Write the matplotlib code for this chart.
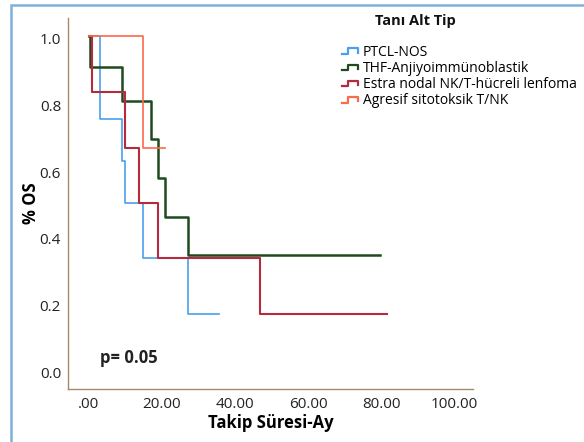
import numpy as np
import matplotlib
matplotlib.use("Agg")
import matplotlib.pyplot as plt
import matplotlib.transforms as mtransforms
from matplotlib.lines import Line2D
from matplotlib.patches import Rectangle
from matplotlib.legend_handler import HandlerBase

plt.rcParams['font.family'] = ['Open Sans', 'DejaVu Sans']

# Kaplan-Meier curves (time in months, survival)
labels = ["PTCL-NOS", "THF-Anjiyoimmünoblastik",
          "Estra nodal NK/T-hücreli lenfoma", "Agresif sitotoksik T/NK"]

ptcl_t = [0, 3.0, 9.0, 9.9, 14.9, 27.0, 35.7]
ptcl_s = [1.0, 0.75, 0.625, 0.50, 0.333, 0.165, 0.165]

thf_t = [0, 0.2, 9.0, 16.9, 19.0, 20.9, 27.0, 79.7]
thf_s = [1.0, 0.908, 0.806, 0.691, 0.574, 0.456, 0.341, 0.341]

nk_t = [0, 0.9, 9.9, 13.8, 18.8, 46.8, 81.6]
nk_s = [1.0, 0.833, 0.665, 0.50, 0.333, 0.165, 0.165]

agr_t = [0, 14.9, 20.8]
agr_s = [1.0, 0.665, 0.665]

x_ticks = [0, 20, 40, 60, 80, 100]
x_ticklabels = [".00", "20.00", "40.00", "60.00", "80.00", "100.00"]
y_ticks = [0.0, 0.2, 0.4, 0.6, 0.8, 1.0]

colors = ["#4a9fee", "#1f4a1f", "#b52a3c", "#fb6a4a"]
widths = [1.2, 1.8, 1.5, 1.2]


# legend handle drawn as a small step, like the SPSS icon
class StepHandler(HandlerBase):
    def create_artists(self, legend, orig_handle, xdescent, ydescent,
                       width, height, fontsize, trans):
        lo = 0.15 * height - ydescent
        hi = 0.75 * height - ydescent
        xs = np.array([0, 0.4, 0.4, 1.0, 1.0]) * width - xdescent
        ys = [lo, lo, hi, hi, lo + 0.15 * height]
        line = Line2D(xs, ys, color=orig_handle.get_color(),
                      linewidth=1.6, transform=trans)
        return [line]


fig = plt.figure(figsize=(5.84, 4.42), dpi=100)
ax = fig.add_axes([68 / 584, 1 - 389 / 442, 405 / 584, 371 / 442])

series = [(ptcl_t, ptcl_s), (thf_t, thf_s), (nk_t, nk_s), (agr_t, agr_s)]
handles = []
for (t, s), lab, c, lw in zip(series, labels, colors, widths):
    h, = ax.step(t, s, where="post", color=c, linewidth=lw, label=lab)
    handles.append(h)

ax.set_xlim(-5.75, 105.2)
ax.set_ylim(-0.06, 1.054)
ax.set_xticks(x_ticks)
ax.set_xticklabels(x_ticklabels)
ax.set_yticks(y_ticks)
ax.set_yticklabels([f"{v:.1f}" for v in y_ticks])
ax.tick_params(length=0, labelsize=11, colors="#222222")
ax.tick_params(axis="x", pad=6)
ax.tick_params(axis="y", pad=5)

# y labels sit a little below their ticks in the original
shift = mtransforms.ScaledTranslation(0, -3 / 100, fig.dpi_scale_trans)
for lbl in ax.get_yticklabels():
    lbl.set_transform(lbl.get_transform() + shift)

for side in ["top", "right"]:
    ax.spines[side].set_visible(False)
for side in ["left", "bottom"]:
    ax.spines[side].set_color("#a8896a")
    ax.spines[side].set_linewidth(1.0)

ax.set_xlabel("Takip Süresi-Ay", fontsize=12, fontweight="bold", labelpad=1)
ax.set_ylabel("% OS", fontsize=12, fontweight="bold", labelpad=0)

fig.text(100 / 584, 1 - 358 / 442, "p= 0.05",
         fontsize=12, fontweight="bold", va="center", ha="left", color="#222222")

fig.text(375 / 584, 1 - 21 / 442, "Tanı Alt Tip", fontsize=10.5,
         fontweight="bold", va="center", ha="left", color="#111111")

fig.legend(handles, labels, loc="upper left",
           bbox_to_anchor=(332 / 584, 1 - 35 / 442),
           frameon=False, fontsize=10,
           handler_map={Line2D: StepHandler()},
           handlelength=1.2, handletextpad=0.3, labelspacing=0.08,
           borderpad=0.2)

# blue frame around the figure, cut off on right and bottom
fig.patches.append(Rectangle((11 / 584, -0.1), 1.2, 1 - 5 / 442 + 0.1,
                             transform=fig.transFigure, fill=False,
                             edgecolor="#7db1d8", linewidth=1.8))

fig.savefig("out.png", dpi=100)
